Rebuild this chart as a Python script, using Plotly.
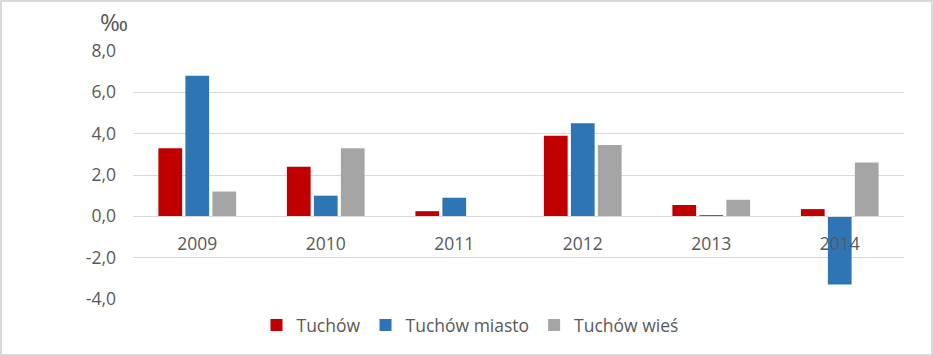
import plotly.graph_objects as go

years = ["2009", "2010", "2011", "2012", "2013", "2014"]
tuchow = [3.3, 2.4, 0.25, 3.9, 0.55, 0.35]
tuchow_miasto = [6.8, 1.0, 0.9, 4.5, 0.05, -3.3]
tuchow_wies = [1.2, 3.3, 0.0, 3.45, 0.8, 2.6]
series_names = ["Tuchów", "Tuchów miasto", "Tuchów wieś"]
colors = ["#C00000", "#2E75B6", "#A5A5A5"]
y_ticks = [-4, -2, 0, 2, 4, 6, 8]
y_tick_labels = ["-4,0", "-2,0", "0,0", "2,0", "4,0", "6,0", "8,0"]

W, H = 933, 356
L, R, T, B = 133, 29, 51, 57
pw, ph = W - L - R, H - T - B

font = "Open Sans, sans-serif"
txt = "#595959"
fs = 17.5

fig = go.Figure()
for name, vals, c in zip(series_names, [tuchow, tuchow_miasto, tuchow_wies], colors):
    fig.add_trace(go.Bar(x=years, y=vals, name=name, marker_color=c, marker_line_width=0))

def px_x(p):
    return (p - L) / pw

def px_y(p):
    return (T + ph - p) / ph

fig.update_layout(
    width=W, height=H,
    margin=dict(l=L, r=R, t=T, b=B, autoexpand=False),
    paper_bgcolor="white", plot_bgcolor="white",
    barmode="group", bargap=0.37, bargroupgap=0.12,
    font=dict(family=font, size=fs, color=txt),
    showlegend=True,
    legend=dict(orientation="h", x=px_x(470), xanchor="center", y=px_y(325), yanchor="middle",
                font=dict(family=font, size=fs, color=txt), itemwidth=30,
                traceorder="normal"),
    xaxis=dict(anchor="free", position=1/3, showline=True, linecolor="#D9D9D9", linewidth=1,
               ticks="", showgrid=False, tickfont=dict(size=fs, color=txt), zeroline=False,
               ticklabelstandoff=12, automargin=False),
    yaxis=dict(range=[-4, 8], tickvals=y_ticks, ticktext=y_tick_labels, showgrid=True,
               gridcolor="#D9D9D9", gridwidth=1, zeroline=False, showline=False, ticks="",
               tickfont=dict(size=fs, color=txt), ticklabelstandoff=16, automargin=False),
    annotations=[dict(text="‰", xref="paper", yref="paper", x=px_x(114), y=px_y(21),
                      xanchor="center", yanchor="middle", showarrow=False,
                      font=dict(family=font, size=24, color=txt))],
    shapes=[dict(type="rect", xref="paper", yref="paper", x0=px_x(1), x1=px_x(932),
                 y0=px_y(1), y1=px_y(355), line=dict(color="#D9D9D9", width=2),
                 fillcolor="rgba(0,0,0,0)", layer="below")],
)
fig.write_html("out.html", config={"displayModeBar": False},
               post_script="document.body.style.margin='0';document.body.style.overflow='hidden';")
